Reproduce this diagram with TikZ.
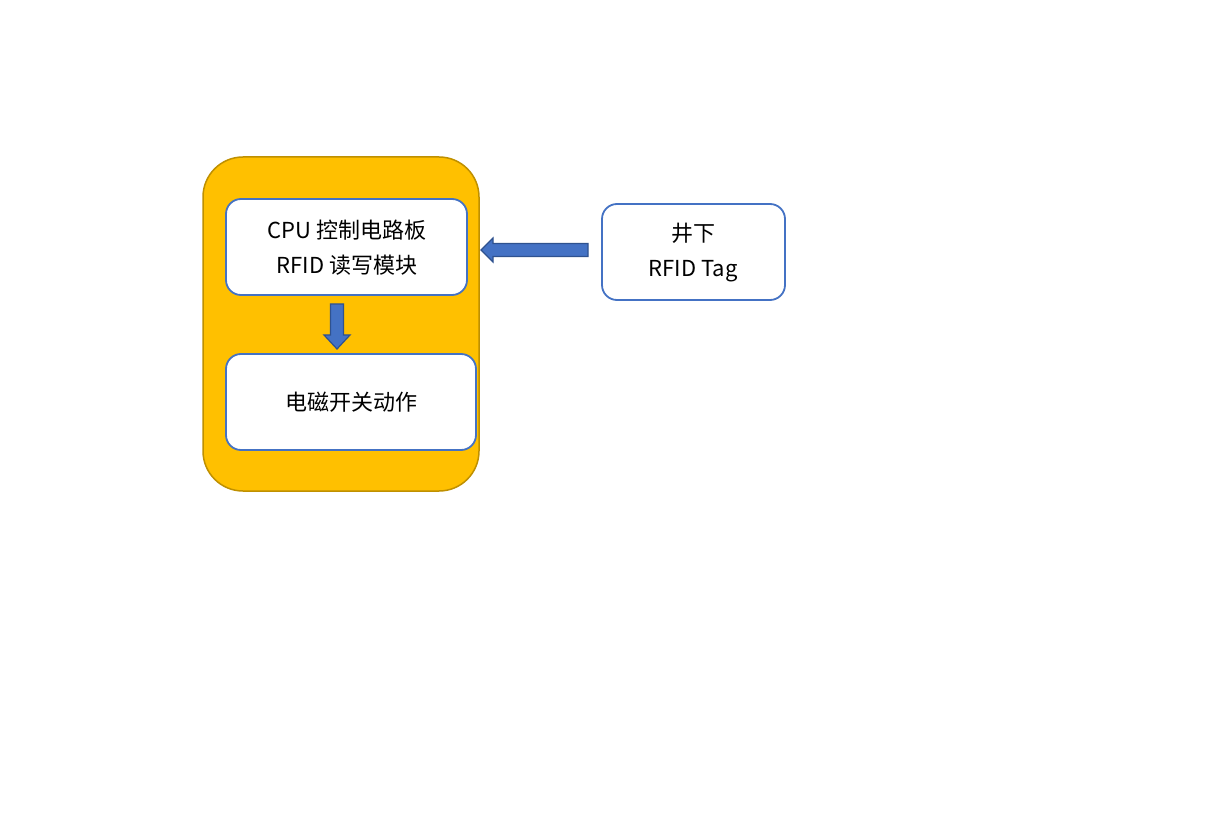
\documentclass[tikz,border=0pt]{standalone}
\usepackage{fontspec}
\setmainfont{Noto Sans CJK SC}
\tikzset{
  outerbox/.style={draw=gold!75!black, fill=gold, line width=1.5pt, rounded corners=40pt},
  innerbox/.style={draw=bluebd, fill=white, line width=1.8pt, rounded corners=15pt},
  blockarrow/.style={draw=arrowbd, fill=arrowfill, line width=1.2pt, line join=miter},
  lbl/.style={font=\fontsize{22}{35}\selectfont, align=center}
}
\definecolor{gold}{HTML}{FFC000}
\definecolor{bluebd}{HTML}{4472C4}
\definecolor{arrowfill}{HTML}{4472C4}
\definecolor{arrowbd}{HTML}{2F528F}
\begin{document}
\begin{tikzpicture}[x=1pt,y=-1pt]
\useasboundingbox (0,0) rectangle (1232,834);
\fill[white] (0,0) rectangle (1232,834);
% outer container
\draw[outerbox] (203,157) rectangle (479,491);
% boxes
\draw[innerbox] (226,199) rectangle (467,295);
\draw[innerbox] (226,354) rectangle (476,450);
\draw[innerbox] (602,204) rectangle (785,300);
\node[lbl] (cpu) at (347,248) {CPU 控制电路板\\RFID 读写模块};
\node[lbl] (em) at (351,402) {电磁开关动作};
\node[lbl] (tag) at (693,253) {井下\\RFID Tag};
% left arrow
\draw[blockarrow] (588,243.5) -- (493,243.5) -- (493,238) -- (481,250) -- (493,262) -- (493,256.5) -- (588,256.5) -- cycle;
% down arrow
\draw[blockarrow] (330.5,304) -- (343.5,304) -- (343.5,335) -- (350,335) -- (337,349) -- (324,335) -- (330.5,335) -- cycle;
\end{tikzpicture}
\end{document}
